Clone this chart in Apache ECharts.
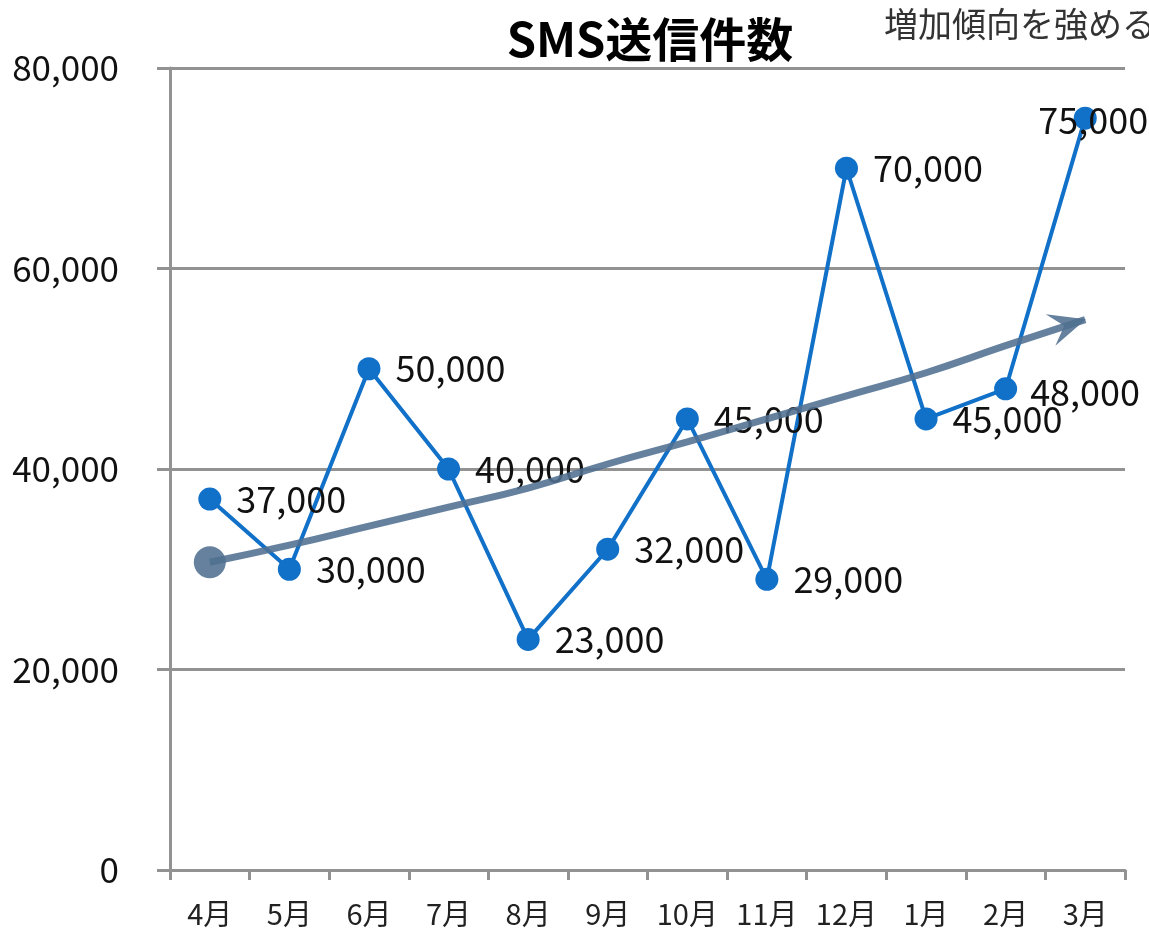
<!DOCTYPE html>
<html>
<head>
<meta charset="utf-8">
<title>SMS送信件数</title>
<script src="https://cdn.jsdelivr.net/npm/echarts@6/dist/echarts.min.js"></script>
<style>
  html, body { margin: 0; padding: 0; background: #fff; }
  #chart { width: 1149px; height: 939px; }
</style>
</head>
<body>
<div id="chart"></div>
<script>
    // データ
    var months = ['4月', '5月', '6月', '7月', '8月', '9月', '10月', '11月', '12月', '1月', '2月', '3月'];
    var smsCount = [37000, 30000, 50000, 40000, 23000, 32000, 45000, 29000, 70000, 45000, 48000, 75000];
    // 傾向線（手書きの矢印を読み取った値）
    var trendValues = [30700, 32400, 34300, 36200, 38100, 40500, 42700, 45000, 47300, 49600, 52300, 54900];
    var yTicks = [0, 20000, 40000, 60000, 80000];

    var font = '"Noto Sans CJK JP", "Noto Sans", sans-serif';
    var trendColor = 'rgba(80,112,145,0.88)';

    function comma(v) {
        return String(v).replace(/\B(?=(\d{3})+(?!\d))/g, ',');
    }

    var trendData = trendValues.map(function (v, i) {
        if (i === 0) {
            return { value: v, symbol: 'circle', symbolSize: 32, itemStyle: { color: trendColor } };
        }
        if (i === trendValues.length - 1) {
            return {
                value: v,
                symbol: 'path://M0,0 L36,16 L0,32 L14,16 Z',
                symbolSize: [37, 33],
                symbolRotate: 17,
                symbolOffset: [-17, 5],
                itemStyle: { color: trendColor }
            };
        }
        return { value: v, symbol: 'none' };
    });

    var labelData = smsCount.map(function (v, i) {
        if (i === smsCount.length - 1) {
            return { value: v, label: { position: 'inside', offset: [8, 2] } };
        }
        if (i === 10) {
            return { value: v, label: { distance: 13, offset: [0, 4] } };
        }
        return v;
    });

    var myChart = echarts.init(document.getElementById('chart'), null, { renderer: 'canvas' });
    var option = {
        backgroundColor: '#fff',
        animation: false,
        title: [
            {
                text: 'SMS送信件数',
                left: 645,
                textAlign: 'center',
                top: 11,
                textStyle: { fontFamily: font, fontSize: 47, fontWeight: 'bold', color: '#000' }
            },
            {
                text: '増加傾向を強める',
                left: 879,
                top: 2,
                textStyle: { fontFamily: font, fontSize: 34, fontWeight: 'normal', color: '#333' }
            }
        ],
        grid: { left: 170, right: 24, top: 68, bottom: 69, containLabel: false },
        xAxis: {
            type: 'category',
            data: months,
            boundaryGap: true,
            axisLine: { lineStyle: { color: '#929292', width: 3 } },
            axisTick: { show: true, interval: 0, length: 10, lineStyle: { color: '#929292', width: 3 } },
            axisLabel: { interval: 0, hideOverlap: false, margin: 29, fontFamily: font, fontSize: 29, color: '#222' },
            splitLine: { show: false }
        },
        yAxis: {
            type: 'value',
            min: yTicks[0],
            max: yTicks[yTicks.length - 1],
            interval: yTicks[1] - yTicks[0],
            axisLine: { show: true, lineStyle: { color: '#929292', width: 3 } },
            axisTick: { show: true, length: 13, lineStyle: { color: '#929292', width: 3 } },
            axisLabel: {
                margin: 51,
                fontFamily: font,
                fontSize: 35,
                color: '#111',
                formatter: function (v) { return comma(v); }
            },
            splitLine: { lineStyle: { color: '#929292', width: 3 } }
        },
        series: [
            {
                name: 'SMS送信件数',
                type: 'line',
                data: labelData,
                z: 3,
                symbol: 'circle',
                symbolSize: 23,
                lineStyle: { color: '#1170c8', width: 4 },
                itemStyle: { color: '#1170c8' },
                label: {
                    show: true,
                    position: 'right',
                    distance: 15,
                    fontFamily: font,
                    fontSize: 36,
                    color: '#111',
                    formatter: function (p) { return comma(p.value); }
                }
            },
            {
                name: '傾向',
                type: 'line',
                data: trendData,
                z: 5,
                smooth: true,
                lineStyle: { color: trendColor, width: 7 },
                itemStyle: { color: trendColor },
                label: { show: false },
                silent: true
            }
        ]
    };
    myChart.setOption(option);
</script>
</body>
</html>
